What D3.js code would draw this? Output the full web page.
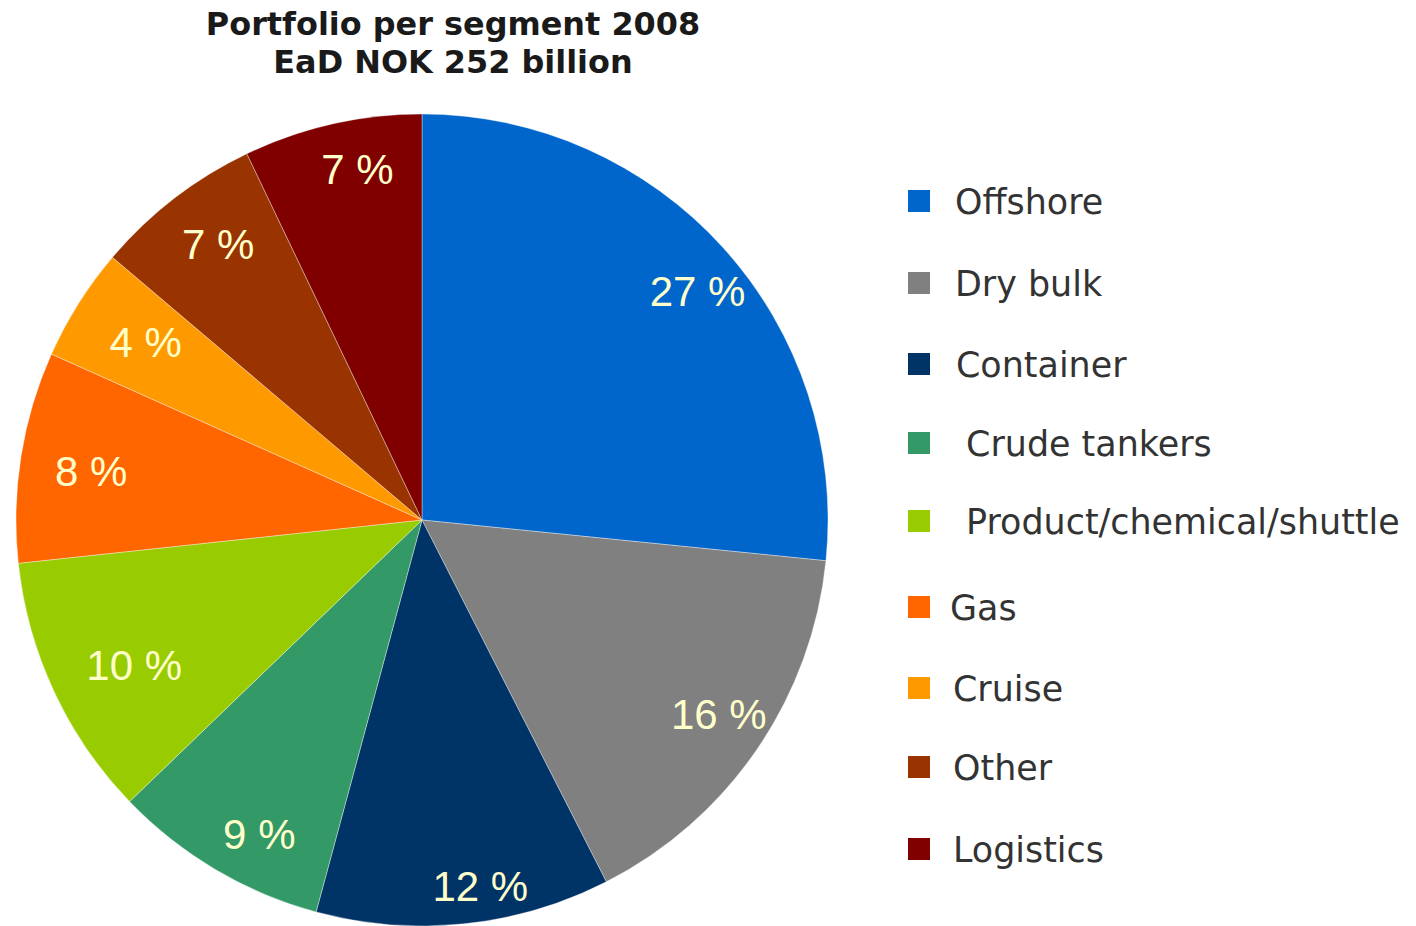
<!DOCTYPE html>
<html><head><meta charset="utf-8">
<script src="https://cdn.jsdelivr.net/npm/d3@7"></script>
<style>body{margin:0;background:#fff;} text{font-family:"DejaVu Sans",Verdana,sans-serif;} text.pct{font-family:"Liberation Sans",Arial,sans-serif;}</style>
</head><body>
<svg id="c" width="1416" height="926"></svg>
<script>
const categories = ["Offshore","Dry bulk","Container","Crude tankers","Product/chemical/shuttle","Gas","Cruise","Other","Logistics"];
const legendLabels = ["Offshore","Dry bulk","Container"," Crude tankers"," Product/chemical/shuttle","Gas","Cruise","Other","Logistics"];
const values = [26.6,15.9,11.7,8.6,10.5,8.4,4.5,6.7,7.1];
const labels = ["27 %","16 %","12 %","9 %","10 %","8 %","4 %","7 %","7 %"];
const colors = ["#0066CC","#808080","#003366","#339966","#99CC00","#FF6600","#FF9900","#993300","#800000"];
const titleLines = ["Portfolio per segment 2008","EaD NOK 252 billion"];

// layout constants
const labelRadius = [358,356,370,355,322,334,329,342,355];
const labelNudge = [[10,11],[3,-7],[20,-2],[18,8],[4,9],[-1,3],[2,-3],[5,-5],[14,-5]];
const legendY = [201,283,364,443,521,607,688,767,849];
const legendTextX = [47,47,48,47,47,42,45,45,45];

const svg = d3.select("#c");
const cx = 422, cy = 520, R = 406;
const pie = d3.pie().sort(null).value(d=>d);
const arcs = pie(values);
const arc = d3.arc().innerRadius(0).outerRadius(R);
const g = svg.append("g").attr("transform",`translate(${cx},${cy})`);
g.selectAll("path").data(arcs).enter().append("path")
  .attr("d",arc).attr("fill",(d,i)=>colors[i])
  .attr("stroke","#ffffff").attr("stroke-width",0.6).attr("stroke-opacity",0.6);
g.selectAll("text").data(arcs).enter().append("text")
  .attr("class","pct")
  .attr("transform",(d,i)=>{
    const r = labelRadius[i];
    const c = d3.arc().innerRadius(r).outerRadius(r).centroid(d);
    return `translate(${c[0]+labelNudge[i][0]},${c[1]+labelNudge[i][1]})`;
  })
  .attr("text-anchor","middle").attr("dy","0.358em")
  .attr("font-size",42).attr("fill","#FFFFCC")
  .text((d,i)=>labels[i]);

svg.selectAll(".title").data(titleLines).enter().append("text")
  .attr("x",453).attr("y",(d,i)=>35+i*38)
  .attr("text-anchor","middle").attr("font-size",31.9).attr("font-weight","bold")
  .attr("fill","#1a1a1a").text(d=>d);

const lg = svg.append("g");
const items = lg.selectAll("g").data(categories).enter().append("g")
  .attr("transform",(d,i)=>`translate(908,${legendY[i]})`);
items.append("rect").attr("x",0).attr("y",-11).attr("width",22).attr("height",22)
  .attr("fill",(d,i)=>colors[i]);
items.append("text").attr("x",(d,i)=>legendTextX[i]).attr("y",0).attr("dy","0.36em")
  .attr("font-size",34.9).attr("fill","#333333")
  .style("white-space","pre")
  .text((d,i)=>legendLabels[i]);
</script>
</body></html>
